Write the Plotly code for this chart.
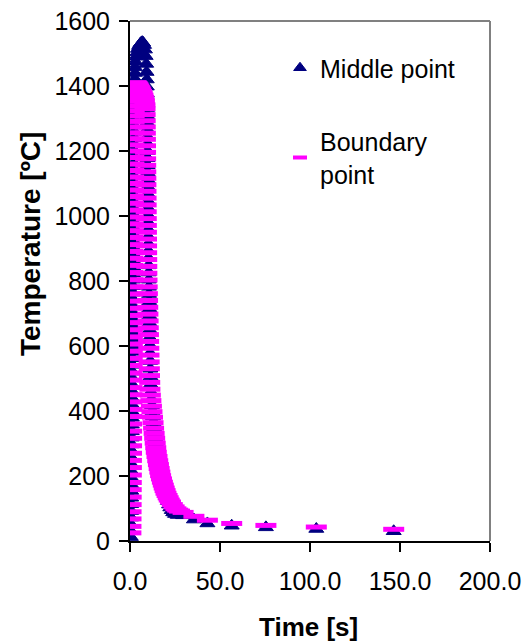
import plotly.graph_objects as go

# ---------------- data ----------------
# Middle point: heating branch
mid_heat_time = [0.50, 0.53, 0.56, 0.59, 0.62, 0.65, 0.68, 0.71, 0.74, 0.77,
                 0.80, 0.83, 0.86, 0.89, 0.92, 0.95, 0.98, 1.01, 1.04, 1.07,
                 1.10, 1.13, 1.16, 1.19, 1.22, 1.25, 1.28, 1.31, 1.34, 1.37,
                 1.40, 1.43, 1.46, 1.49, 1.52, 1.55, 1.58, 1.61, 1.64, 1.67,
                 1.70, 1.73, 1.76, 1.79, 1.82, 1.85, 1.88, 1.91, 1.94, 1.97,
                 2.00, 2.03, 2.06, 2.09, 2.12, 2.15, 2.18, 2.21, 2.24, 2.27,
                 2.30, 2.33, 2.36, 2.39, 2.42, 2.45, 2.48, 2.51, 2.54, 2.57,
                 2.62, 2.68, 2.74, 2.80]
mid_heat_temp = [12, 30, 51, 72, 92, 113, 133, 154, 174, 195,
                 215, 236, 256, 277, 297, 318, 338, 358, 379, 399,
                 420, 440, 460, 481, 501, 521, 542, 562, 582, 602,
                 623, 643, 663, 683, 703, 724, 744, 764, 784, 804,
                 824, 844, 864, 884, 904, 924, 944, 964, 984, 1004,
                 1024, 1044, 1064, 1084, 1103, 1123, 1143, 1162, 1182, 1201,
                 1221, 1240, 1259, 1278, 1297, 1316, 1334, 1352, 1370, 1388,
                 1405, 1422, 1440, 1458]
# Middle point: peak dome
mid_peak_time = [3.0, 3.4, 3.9, 4.4, 5.0, 5.6, 6.2, 6.8, 7.3, 7.8, 8.3, 8.7, 9.0, 9.2]
mid_peak_temp = [1475, 1490, 1503, 1514, 1523, 1529, 1533, 1535, 1533, 1526, 1512, 1492, 1468, 1443]
# Middle point: cooling branch
mid_cool_time = [9.30, 9.34, 9.38, 9.42, 9.46, 9.50, 9.54, 9.58, 9.62, 9.66,
                 9.70, 9.74, 9.78, 9.82, 9.86, 9.90, 9.94, 9.98, 10.02, 10.06,
                 10.10, 10.14, 10.18, 10.22, 10.26, 10.30, 10.36, 10.42, 10.48, 10.54,
                 10.60, 10.66, 10.72, 10.78, 10.84, 10.90, 10.98, 11.06, 11.14, 11.22,
                 11.30, 11.40, 11.50, 11.60,
                 11.9, 12.2, 12.5, 12.8, 13.1, 13.4, 13.7, 14.0, 14.3, 14.7,
                 15.1, 15.5, 15.9, 16.3, 16.7, 17.2, 17.7, 18.2, 18.7, 19.2,
                 19.8, 20.4, 21.0, 21.7, 22.4, 23.2, 24.0, 25.0, 26.5, 29.5,
                 35.5, 43.0, 56.5, 75.5, 103.5, 146.5]
mid_cool_temp = [1420, 1398, 1376, 1354, 1332, 1310, 1288, 1266, 1244, 1222,
                 1200, 1178, 1156, 1134, 1112, 1090, 1068, 1046, 1024, 1002,
                 980, 958, 936, 914, 892, 870, 848, 826, 804, 782,
                 760, 738, 716, 694, 672, 650, 626, 602, 578, 554,
                 530, 506, 482, 458,
                 436, 418, 400, 383, 366, 350, 334, 318, 303, 288,
                 273, 259, 245, 232, 220, 206, 193, 181, 169, 158,
                 146, 134, 123, 112, 103, 95, 88, 83, 80, 79,
                 66, 54, 47, 42, 37, 30]

# Boundary point: heating branch
bnd_heat_time = [0.50, 0.53, 0.56, 0.59, 0.62, 0.65, 0.68, 0.71, 0.74, 0.77,
                 0.80, 0.83, 0.86, 0.89, 0.92, 0.95, 0.98, 1.01, 1.04, 1.07,
                 1.10, 1.13, 1.16, 1.19, 1.22, 1.25, 1.28, 1.31, 1.34, 1.37,
                 1.40, 1.43, 1.46, 1.49, 1.52, 1.55, 1.58, 1.61, 1.64, 1.67,
                 1.70, 1.73, 1.76, 1.79, 1.82, 1.85, 1.88, 1.91, 1.94, 1.97,
                 2.00, 2.03, 2.06, 2.09, 2.12, 2.15, 2.18, 2.21, 2.24, 2.27,
                 2.30, 2.33, 2.36, 2.39, 2.42, 2.45, 2.48, 2.51, 2.54, 2.57]
bnd_heat_temp = [25, 45, 68, 90, 112, 135, 158, 180, 203, 226,
                 248, 270, 293, 316, 338, 360, 383, 405, 428, 450,
                 472, 495, 517, 540, 562, 584, 606, 628, 650, 672,
                 694, 716, 738, 760, 782, 804, 826, 848, 870, 891,
                 912, 934, 955, 976, 997, 1018, 1039, 1060, 1080, 1100,
                 1120, 1140, 1160, 1180, 1200, 1219, 1238, 1256, 1274, 1291,
                 1308, 1324, 1339, 1353, 1366, 1377, 1386, 1393, 1398, 1401]
# Boundary point: plateau
bnd_flat_time = [2.8, 3.2, 3.6, 4.0, 4.4, 4.8, 5.2, 5.6, 6.0, 6.4, 6.8, 7.2, 7.6, 8.0, 8.3]
bnd_flat_temp = [1408, 1410, 1409, 1407, 1404, 1400, 1396, 1392, 1388, 1383, 1378, 1372, 1365, 1355, 1342]
# Boundary point: cooling branch
bnd_cool_time = [8.36, 8.40, 8.44, 8.48, 8.52, 8.56, 8.60, 8.64, 8.68, 8.72,
                 8.76, 8.80, 8.84, 8.88, 8.92, 8.96, 9.00, 9.04, 9.08, 9.12,
                 9.16, 9.20, 9.24, 9.28, 9.32, 9.36,
                 9.45, 9.55, 9.65, 9.75, 9.85, 9.95, 10.05, 10.15, 10.25, 10.35,
                 10.45, 10.55, 10.65, 10.75, 10.85, 10.95, 11.05,
                 11.3, 11.6, 11.9, 12.2, 12.5, 12.8, 13.1, 13.4, 13.7, 14.0,
                 14.3, 14.6, 15.0, 15.4, 15.8, 16.2, 16.6, 17.0, 17.5, 18.0,
                 18.5, 19.0, 19.5, 20.0, 20.6, 21.2, 21.8, 22.5, 23.5, 24.5,
                 25.5, 26.5, 27.5, 29.5, 35.5, 43.0, 56.5, 75.5, 103.5, 146.5]
bnd_cool_temp = [1330, 1312, 1293, 1274, 1255, 1236, 1216, 1196, 1176, 1156,
                 1136, 1116, 1096, 1076, 1055, 1034, 1013, 992, 971, 950,
                 929, 908, 887, 866, 845, 824,
                 803, 782, 761, 740, 719, 698, 677, 656, 635, 614,
                 593, 572, 551, 530, 509, 488, 467,
                 449, 432, 415, 398, 381, 364, 347, 331, 316, 301,
                 287, 273, 260, 247, 235, 223, 212, 201, 191, 181,
                 172, 163, 155, 147, 140, 133, 126, 120, 112, 105,
                 99, 95, 92, 88, 76, 64, 54, 48, 43, 36]

x_ticks = [0, 50, 100, 150, 200]
y_ticks = [0, 200, 400, 600, 800, 1000, 1200, 1400, 1600]

# ---------------- figure ----------------
FONT = "Liberation Sans, Arial, sans-serif"
NAVY = "#000080"
MAGENTA = "#FF00FF"

mid_time = mid_heat_time + mid_peak_time + mid_cool_time
mid_temp = mid_heat_temp + mid_peak_temp + mid_cool_temp
bnd_time = bnd_heat_time + bnd_flat_time + bnd_cool_time
bnd_temp = bnd_heat_temp + bnd_flat_temp + bnd_cool_temp

mid_marker = dict(symbol="triangle-up", size=13, color=NAVY,
                  line=dict(color=NAVY, width=1))
bnd_marker = dict(symbol="line-ew", size=15, color=MAGENTA,
                  line=dict(color=MAGENTA, width=5))

fig = go.Figure()
fig.add_trace(go.Scatter(
    x=mid_time, y=mid_temp, mode="markers", name="Middle point",
    showlegend=False, marker=mid_marker,
))
fig.add_trace(go.Scatter(
    x=bnd_time, y=bnd_temp, mode="markers", name="Boundary point",
    showlegend=False, marker=bnd_marker,
))
# legend entries with the smaller legend symbols of the reference
fig.add_trace(go.Scatter(
    x=[None], y=[None], mode="markers", name="Middle point",
    legendgroup="m",
    marker=dict(symbol="triangle-up", size=11, color=NAVY,
                line=dict(color=NAVY, width=1)),
))
fig.add_trace(go.Scatter(
    x=[None], y=[None], mode="markers", name="Boundary<br>point",
    legendgroup="b",
    marker=dict(symbol="line-ew", size=10, color=MAGENTA,
                line=dict(color=MAGENTA, width=4)),
))

L, R, T, B = 130, 490, 21, 541
W, H = 525, 643

fig.update_layout(
    width=W, height=H,
    margin=dict(l=L, r=W - R, t=T, b=H - B, autoexpand=False),
    paper_bgcolor="white", plot_bgcolor="white",
    font=dict(family=FONT, size=25, color="black"),
    showlegend=True,
    legend=dict(x=(280 - L) / (R - L), y=(B - 45) / (B - T),
                xanchor="left", yanchor="top",
                bgcolor="rgba(0,0,0,0)", borderwidth=0,
                tracegroupgap=38, traceorder="grouped",
                font=dict(family=FONT, size=25, color="black")),
    xaxis=dict(range=[0, 200], tickvals=x_ticks,
               ticktext=[f"{v:.1f}" for v in x_ticks],
               showgrid=False, zeroline=False, automargin=False,
               showline=True, linecolor="black", linewidth=2,
               ticks="outside", ticklen=9, tickwidth=2, tickcolor="black",
               ticklabelstandoff=8),
    yaxis=dict(range=[0, 1600], tickvals=y_ticks,
               showgrid=False, zeroline=False, automargin=False,
               showline=True, linecolor="black", linewidth=2,
               ticks="outside", ticklen=9, tickwidth=2, tickcolor="black",
               ticklabelstandoff=4),
    shapes=[
        dict(type="line", xref="paper", yref="paper", x0=0, x1=1, y0=1, y1=1,
             line=dict(color="#808080", width=2)),
        dict(type="line", xref="paper", yref="paper", x0=1, x1=1, y0=0, y1=1,
             line=dict(color="#808080", width=2)),
    ],
    annotations=[
        dict(text="<b>Time [s]</b>", xref="paper", yref="paper",
             x=(308 - L) / (R - L), y=(B - 627) / (B - T),
             xanchor="center", yanchor="middle", showarrow=False,
             font=dict(family=FONT, size=26, color="black")),
        dict(text="<b>Temperature [ºC]</b>", xref="paper", yref="paper",
             x=(30 - L) / (R - L), y=(B - 244) / (B - T),
             xanchor="center", yanchor="middle", showarrow=False,
             textangle=-90,
             font=dict(family=FONT, size=28, color="black")),
    ],
)

fig.write_html("out.html")
